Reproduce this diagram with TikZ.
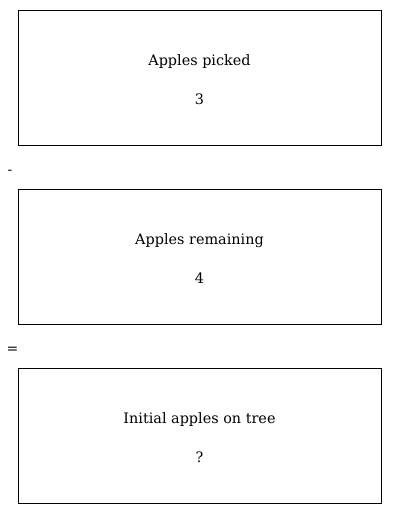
\documentclass[tikz,border=0pt]{standalone}
\usepackage{fontspec}
\setmainfont{DejaVu Serif}
\begin{document}
\begin{tikzpicture}[x=1pt,y=-1pt,
  box/.style={draw=black,line width=1pt,minimum width=363pt,minimum height=135pt,inner sep=0pt},
  lbl/.style={font=\fontsize{14.4}{17}\selectfont,inner sep=0pt,anchor=center},
  op/.style={font=\fontsize{14}{16}\selectfont,inner sep=0pt}]
\useasboundingbox (0,0) rectangle (400,514);
\node[box] (b1) at (199.5,77.5) {};
\node[lbl] (t1) at (199.5,61.5) {Apples picked};
\node[lbl] (v1) at (199.5,99.5) {3};
\node[op] (minus) at (10,172.5) {-};
\node[box] (b2) at (199.5,256.5) {};
\node[lbl] (t2) at (199.5,240.5) {Apples remaining};
\node[lbl] (v2) at (199.5,278.5) {4};
\node[op] (eq) at (12.5,350.5) {=};
\node[box] (b3) at (199.5,435.5) {};
\node[lbl] (t3) at (199.5,419.5) {Initial apples on tree};
\node[lbl] (v3) at (199.5,457.5) {?};
\end{tikzpicture}
\end{document}
